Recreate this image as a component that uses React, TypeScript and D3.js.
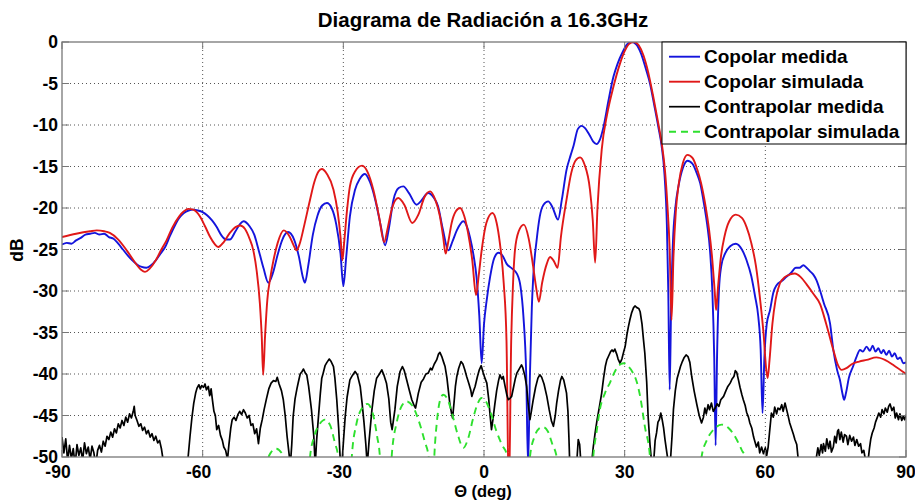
import * as d3 from "d3";

type Pt = [number, number];

const title = "Diagrama de Radiación a 16.3GHz";
const xTicks = [-90, -60, -30, 0, 30, 60, 90];
const yTicks = [0, -5, -10, -15, -20, -25, -30, -35, -40, -45, -50];

// Copolar medida (blue)
const copolarMedida: Pt[] = [
  [-90, -24.4], [-89, -24.2], [-88, -24.3], [-87, -23.9], [-86, -23.6], [-85, -23.2], [-84, -23.1],
  [-83, -23.0], [-82, -23.2], [-81, -23.1], [-80, -23.5], [-79, -23.7], [-78, -24.3], [-77, -25.0],
  [-76, -25.7], [-75, -26.3], [-74, -26.8], [-73, -27.1], [-72, -27.2], [-71, -26.9], [-70, -26.3],
  [-69, -25.5], [-68, -24.7], [-67, -23.4], [-66, -22.2], [-65, -21.2], [-64, -20.6], [-63, -20.3],
  [-62, -20.2], [-61, -20.3], [-60, -20.5], [-59, -20.9], [-58, -21.5], [-57, -22.3], [-56, -23.3],
  [-55, -23.8], [-54.2, -23.8], [-53, -22.8], [-52, -21.9], [-51.3, -21.6], [-50, -22.2], [-49, -23.2],
  [-48, -25.2], [-47, -27.3], [-46, -29.0], [-45, -27.8], [-44, -25.6], [-43, -23.8], [-41.8, -22.9],
  [-40.5, -23.8], [-39.5, -25.8], [-38.6, -28.4], [-38.2, -29.0], [-37.5, -27.0], [-36.5, -23.2],
  [-35.5, -20.9], [-34.5, -19.7], [-33.5, -19.4], [-32.5, -20.0], [-31.5, -22.0], [-30.6, -25.5],
  [-30, -29.4], [-29.4, -26.0], [-28.6, -21.0], [-27.5, -17.8], [-26.5, -16.5], [-25.4, -15.9],
  [-24.3, -16.9], [-23.2, -19.0], [-22, -22.2], [-21.1, -24.5], [-20.3, -22.5], [-19.3, -19.0],
  [-18.2, -17.6], [-17.2, -17.4], [-16, -18.2], [-14.4, -19.6], [-13.5, -19.2], [-11.9, -18.2],
  [-10.8, -18.7], [-9.8, -19.8], [-8.8, -22.5], [-7.6, -25.1], [-6.7, -24.0], [-5.8, -22.7],
  [-4.4, -21.6], [-3.6, -22.3], [-3, -23.5], [-2.2, -25.8], [-1.6, -28.3], [-1, -33], [-0.5, -38.7],
  [0, -34], [0.6, -31], [1.3, -28.3], [2.2, -26.0], [3.1, -25.4], [4, -25.8], [4.8, -26.7], [6, -27.3],
  [7, -27.9], [7.8, -29.5], [8.4, -33], [9, -40], [9.4, -51], [9.8, -40], [10.2, -32], [10.5, -28.3],
  [11.2, -24.0], [11.9, -21.0], [12.7, -19.6], [13.7, -19.2], [14.6, -19.9], [15.8, -21.4],
  [16.6, -19.0], [17.6, -15.4], [18.5, -13.6], [19.1, -12.5], [20, -10.5], [20.8, -10.1],
  [21.6, -10.4], [22.5, -11.2], [23.3, -12.0], [24, -12.3], [24.7, -11.8], [25.5, -10.2],
  [26.5, -7.2], [27.6, -4.2], [28.5, -2.6], [29.5, -1.3], [30.5, -0.3], [31.5, 0], [32.5, -0.3],
  [33.5, -1.4], [34.5, -3.2], [35.4, -5.0], [36.3, -7.6], [37.2, -10.3], [37.9, -12.6], [38.5, -16],
  [39, -22], [39.3, -30], [39.6, -41.9], [39.9, -32], [40.3, -24], [40.8, -20], [41.5, -17.3],
  [42.4, -15.2], [43.4, -14.3], [44.5, -14.7], [45.3, -15.7], [46.1, -17.0], [47, -19.8], [47.6, -22],
  [48.2, -25.1], [48.7, -30], [49.1, -38], [49.4, -48.6], [49.7, -38], [50.1, -30], [50.6, -27],
  [51.4, -25.5], [52.5, -24.6], [53.7, -24.3], [55, -25], [56, -26.3], [57, -28.2], [57.8, -30.6],
  [58.5, -33.1], [59, -37], [59.4, -44.7], [59.8, -38], [60.3, -34], [61, -32.3], [61.7, -30.2],
  [62.4, -29.3], [63.5, -28.8], [64.5, -28.3], [65.5, -27.8], [66.5, -27.2], [67.3, -27.2],
  [68.1, -26.9], [68.8, -27.2], [69.5, -27.6], [70.2, -28.0], [70.9, -28.7], [71.7, -30],
  [72.5, -31.5], [73.8, -33.9], [74.5, -37.1], [75.3, -39.5], [75.9, -40.7], [76.5, -42.5],
  [76.8, -43.1], [77.2, -42.3], [77.8, -40.5], [78.7, -39.1], [79.4, -38.0], [80.2, -37.1],
  [80.8, -37.3], [81.6, -36.7], [82.3, -37.2], [82.9, -36.6], [83.5, -37.3], [84.1, -36.9],
  [84.7, -37.5], [85.2, -37.1], [85.8, -37.7], [86.4, -37.2], [87, -37.9], [87.6, -37.5],
  [88.2, -38.2], [88.8, -38.0], [89.4, -38.7], [90, -38.6],
];

// Copolar simulada (red)
const copolarSimulada: Pt[] = [
  [-90, -23.5], [-87, -23.1], [-84, -22.8], [-82.6, -22.7], [-81, -22.8], [-79.8, -23.0], [-78, -23.8],
  [-76.2, -25.1], [-74.5, -26.5], [-73.2, -27.4], [-72.3, -27.7], [-71.3, -27.3], [-70, -26.3],
  [-68.8, -25.0], [-67.7, -23.9], [-66.5, -22.4], [-65, -21.0], [-64, -20.4], [-63.1, -20.1],
  [-62, -20.2], [-60.6, -21.0], [-59.5, -22.2], [-58.4, -23.5], [-57.5, -24.3], [-56.7, -24.7],
  [-55.5, -24.1], [-54.2, -23.0], [-53, -22.3], [-52, -22.1], [-51, -22.5], [-50, -23.7],
  [-49.2, -25.1], [-48.5, -27.5], [-47.8, -31.5], [-47.4, -35.5], [-47.1, -40.1], [-46.7, -35.5],
  [-46.2, -31], [-45.6, -28.5], [-44.9, -26.3], [-44, -24.2], [-42.7, -22.7], [-41.5, -23.4],
  [-40.6, -24.5], [-40, -25.1], [-39.3, -24.3], [-38.3, -22.0], [-37.1, -19.0], [-36.2, -16.9],
  [-35.3, -15.6], [-34.6, -15.3], [-33.5, -15.9], [-32.1, -17.8], [-31.2, -20.5], [-30.6, -23.5],
  [-30.2, -26.3], [-29.8, -24], [-29.2, -20.2], [-28.6, -17.4], [-27.5, -15.6], [-26, -14.9],
  [-24.8, -15.7], [-23.6, -17.8], [-22.4, -21.0], [-21.3, -24.1], [-20.5, -22.3], [-19.7, -20.2],
  [-18.3, -18.8], [-17, -19.6], [-15.3, -21.8], [-14, -20.8], [-12.7, -18.7], [-11.5, -18.0],
  [-10.4, -19.0], [-9.4, -21.0], [-8.7, -23.5], [-8.2, -25.5], [-7.6, -24.0], [-6.9, -21.8],
  [-6, -20.4], [-5.1, -20.0], [-4.2, -21.0], [-3.4, -23.0], [-2.5, -26.3], [-1.7, -30.5],
  [-1.1, -28.0], [-0.5, -25.1], [0.5, -21.8], [1.8, -20.6], [2.7, -21.8], [3.4, -24.3], [4.2, -29],
  [4.8, -36], [5.3, -55], [5.8, -36], [6.2, -29], [6.6, -25.1], [7.4, -22.8], [8.5, -22.0],
  [9.5, -23.6], [10.5, -27.1], [11.1, -29.5], [11.7, -31.3], [12.4, -29.0], [13.4, -26.7],
  [14.1, -25.9], [14.9, -26.4], [15.7, -27.2], [16.4, -23.5], [17.6, -19.0], [18.6, -15.8],
  [19.5, -14.3], [20.5, -13.9], [21.4, -14.7], [22.6, -17.8], [23.2, -21.5], [23.7, -26.6],
  [24.2, -20], [25.1, -13.0], [26.3, -8.6], [27.6, -5.4], [29, -2.6], [30, -1.1], [31, -0.2],
  [32, 0], [33, -0.4], [34, -1.6], [35, -3.6], [36, -6.3], [37, -9.3], [37.9, -12.2], [38.6, -15.5],
  [39.1, -19.5], [39.6, -25], [40, -33.5], [40.4, -26], [40.9, -20.5], [41.5, -17.2], [42.4, -14.6],
  [43.4, -13.6], [44.5, -14.0], [45.5, -15.4], [46.3, -17.0], [47.2, -19.6], [48, -22.6],
  [48.7, -26.3], [49.2, -30], [49.5, -32.3], [49.9, -29.6], [50.5, -26.0], [51.3, -23.4],
  [52.3, -21.6], [53.7, -20.8], [55, -21.2], [56, -22.3], [57, -24.2], [58, -27.0], [58.9, -31.1],
  [59.6, -35], [60.2, -39.5], [60.5, -40.5], [60.9, -38.3], [61.5, -34.0], [62.2, -31.0],
  [63.1, -29.1], [64.2, -28.3], [65.3, -28.0], [66.3, -27.9], [67.5, -28.3], [68.8, -29.2],
  [70.2, -30.3], [71.7, -31.6], [73, -34.0], [74.5, -37.1], [75.4, -38.8], [76.3, -39.5],
  [77.3, -39.3], [78.5, -38.8], [80, -38.5], [81.6, -38.3], [83.7, -38.0], [85.5, -38.3],
  [87.5, -39.0], [90, -40.0],
];

// Contrapolar medida (black, noisy)
const contrapolarMedida: Pt[] = [
  [-90, -47.6], [-89.6, -49.5], [-89.2, -47.8], [-88.8, -50.5], [-88.4, -48.6], [-88, -50.2],
  [-87.6, -49.0], [-87.2, -51], [-86.8, -48.5], [-86.4, -49.8], [-86, -48.9], [-85.6, -50.4],
  [-85.2, -48.3], [-84.8, -49.6], [-84.4, -48.8], [-84, -50.3], [-83.6, -48.7], [-83.2, -49.5],
  [-82.8, -51], [-82.4, -49.2], [-82, -48.6], [-81.6, -49.4], [-81.2, -48.1], [-80.8, -48.7],
  [-80.4, -47.5], [-80, -47.9], [-79.6, -47.0], [-79.2, -47.6], [-78.8, -46.6], [-78.4, -47.1],
  [-78, -46.0], [-77.6, -46.5], [-77.2, -45.6], [-76.8, -46.2], [-76.4, -45.2], [-76, -45.8],
  [-75.6, -44.8], [-75.2, -45.3], [-74.8, -44.5], [-74.6, -43.9], [-74.4, -45.0], [-74, -45.6],
  [-73.6, -46.3], [-73.2, -46.0], [-72.8, -46.8], [-72.4, -46.4], [-72, -47.2], [-71.6, -46.8],
  [-71.2, -47.6], [-70.8, -47.2], [-70.4, -48.0], [-70, -47.5], [-69.6, -48.3], [-69.2, -48.0],
  [-68.8, -49.0], [-68.4, -50.5], [-68, -52], [-66, -53], [-64, -53], [-63.4, -52], [-63.1, -50],
  [-62.7, -47.5], [-62.3, -45.3], [-61.9, -43.5], [-61.5, -42.3], [-61.2, -41.7], [-60.8, -41.3],
  [-60.5, -41.8], [-60.2, -41.4], [-59.8, -41.6], [-59.5, -41.2], [-59.2, -41.9], [-58.8, -41.5],
  [-58.5, -42.6], [-58.2, -41.8], [-57.9, -43.2], [-57.6, -44.5], [-57.3, -45.0], [-57, -46.7],
  [-56.6, -46.2], [-56.2, -47.4], [-55.8, -48.0], [-55.5, -48.8], [-55.1, -49.2], [-54.7, -50.3],
  [-54.4, -48.5], [-54, -46.5], [-53.7, -45.5], [-53.3, -45.2], [-52.9, -45.6], [-52.5, -44.9],
  [-52.1, -44.5], [-51.7, -44.9], [-51.3, -44.3], [-50.9, -44.7], [-50.5, -45.3], [-50.1, -45.0],
  [-49.7, -46.2], [-49.3, -46.0], [-48.9, -47.2], [-48.5, -46.6], [-48.1, -48.4], [-47.7, -46.5],
  [-47.3, -45.5], [-46.9, -44.3], [-46.4, -43.0], [-45.9, -41.8], [-45.4, -41.1], [-44.9, -40.8],
  [-44.4, -40.9], [-44.1, -40.4], [-43.7, -41.2], [-43.2, -42.0], [-42.8, -43.1], [-42.4, -45.0],
  [-42, -47.5], [-41.6, -49.5], [-41.3, -51], [-41, -48.5], [-40.7, -45.1], [-40.3, -43.0],
  [-39.9, -41.8], [-39.6, -41.0], [-39.2, -40.0], [-38.8, -39.7], [-38.5, -39.4], [-38.1, -39.9],
  [-37.8, -40.1], [-37.4, -41.5], [-36.8, -44.3], [-36.3, -47.5], [-36, -51], [-35.7, -48],
  [-35.3, -45.1], [-34.9, -42.3], [-34.6, -40.5], [-34.3, -39.9], [-33.9, -39.0], [-33.5, -38.6],
  [-33, -38.2], [-32.6, -38.5], [-32.1, -39.1], [-31.8, -40.5], [-31.4, -43.1], [-31, -46.5],
  [-30.6, -51], [-30.2, -50], [-29.9, -47.5], [-29.6, -45.1], [-29.2, -42.8], [-28.6, -40.7],
  [-28.1, -40.2], [-27.5, -39.7], [-27, -40.1], [-26.4, -41.5], [-26, -43.5], [-25.6, -45.8],
  [-25.2, -48.5], [-24.9, -51], [-24.5, -48], [-23.9, -44.3], [-23.4, -42.0], [-22.9, -40.5],
  [-22.3, -40.0], [-21.8, -39.5], [-21.3, -40.2], [-20.8, -41.1], [-20.3, -43.0], [-19.9, -45.8],
  [-19.6, -46.7], [-19.3, -45.5], [-19, -44.3], [-18.5, -41.5], [-17.9, -39.7], [-17.4, -39.1],
  [-17, -39.6], [-16.5, -40.7], [-16, -41.8], [-15.4, -43.1], [-14.9, -43.8], [-14.6, -44.1],
  [-14.3, -43.2], [-14, -42.3], [-13.4, -41.0], [-12.9, -40.6], [-12.4, -40.0], [-11.9, -39.9],
  [-11.4, -39.3], [-11.1, -39.5], [-10.6, -38.8], [-10.1, -38.3], [-9.7, -37.6], [-9.4, -37.4],
  [-9, -37.9], [-8.6, -38.6], [-8.3, -39.1], [-7.9, -40.5], [-7.6, -42.0], [-7.3, -43.5],
  [-6.9, -44.8], [-6.7, -45.3], [-6.4, -43.5], [-6.1, -41.5], [-5.8, -40.3], [-5.4, -39.3],
  [-4.9, -38.5], [-4.5, -38.8], [-4.1, -39.5], [-3.7, -40.3], [-3.2, -41.2], [-2.8, -42.0],
  [-2.6, -42.7], [-2.2, -42.0], [-1.9, -41.5], [-1.4, -40.3], [-1, -39.5], [-0.6, -39.0],
  [-0.2, -39.8], [0.2, -40.5], [0.6, -41.1], [1, -43.0], [1.3, -45.0], [1.6, -46.7], [1.9, -45.5],
  [2.3, -43.7], [2.7, -42.0], [3.1, -40.8], [3.4, -40.1], [3.8, -40.6], [4.1, -40.3], [4.5, -41.5],
  [4.9, -42.6], [5.2, -43.1], [5.6, -42.9], [5.9, -42.7], [6.3, -41.6], [6.7, -40.5], [7, -39.9],
  [7.4, -39.5], [7.7, -39.2], [8, -38.9], [8.3, -39.3], [8.7, -40.2], [9.1, -41.5], [9.4, -43.5],
  [9.8, -45.5], [10.1, -44.5], [10.5, -43.1], [11, -41.6], [11.5, -40.5], [11.9, -40.1],
  [12.3, -40.4], [12.8, -41.2], [13.4, -42.7], [13.9, -44.3], [14.4, -45.7], [14.8, -46.3],
  [15.2, -45.0], [15.5, -43.5], [15.9, -42.0], [16.3, -40.8], [16.6, -40.3], [17, -40.7],
  [17.3, -41.5], [17.6, -42.3], [17.9, -44.5], [18.1, -47.5], [18.3, -51], [19, -53], [19.8, -50.5],
  [20.1, -47.9], [20.4, -48.5], [20.7, -51], [21.5, -53], [22.5, -52], [23, -50.5], [23.3, -48.8],
  [23.7, -47.1], [24.1, -45.6], [24.6, -44.0], [25.1, -42.3], [25.5, -40.5], [25.9, -39.0],
  [26.2, -38.3], [26.6, -37.8], [27, -37.3], [27.3, -37.1], [27.6, -37.3], [27.9, -37.0],
  [28.3, -37.6], [28.6, -38.2], [29, -38.7], [29.4, -38.2], [29.8, -37.3], [30.1, -36.7],
  [30.5, -35.2], [30.8, -34.3], [31.1, -33.5], [31.5, -32.6], [31.9, -32.0], [32.2, -31.8],
  [32.6, -32.0], [33, -32.1], [33.3, -32.5], [33.7, -34.0], [34, -35.8], [34.3, -37.5], [34.7, -41.0],
  [35, -45.1], [35.4, -48.5], [35.8, -51], [36.2, -50.5], [36.5, -48.0], [36.8, -47.1],
  [37.1, -45.8], [37.4, -45.5], [37.7, -44.7], [38, -45.5], [38.3, -46.5], [38.6, -47.9],
  [39, -49.5], [39.4, -51], [39.7, -51], [40.1, -47.5], [40.4, -44.3], [40.8, -42.0], [41.2, -40.5],
  [41.5, -39.9], [41.9, -39.1], [42.3, -38.5], [42.7, -38.0], [43.1, -37.7], [43.5, -37.9],
  [43.9, -38.6], [44.3, -40.3], [44.8, -42.0], [45.4, -43.7], [45.9, -45.0], [46.4, -45.9],
  [46.8, -45.2], [47.1, -44.1], [47.4, -44.8], [47.8, -43.7], [48.1, -44.3], [48.5, -43.5],
  [48.9, -44.5], [49.3, -44.1], [49.7, -43.6], [50.1, -43.9], [50.5, -43.1], [51.1, -42.7],
  [51.6, -42.0], [52, -41.5], [52.5, -41.1], [52.9, -40.6], [53.3, -40.3], [53.6, -39.6],
  [53.9, -39.8], [54.3, -40.8], [54.6, -41.6], [55, -42.5], [55.3, -43.1], [55.7, -43.8],
  [56, -44.6], [56.4, -45.2], [56.7, -45.9], [57.1, -46.5], [57.5, -47.6], [58.1, -48.8],
  [58.5, -48.2], [58.8, -49.5], [59.2, -48.8], [59.6, -49.6], [60, -48.9], [60.3, -49.8],
  [60.6, -48.8], [60.9, -47.0], [61.3, -44.7], [61.7, -45.2], [62, -44.0], [62.4, -44.8],
  [62.7, -44.1], [63.1, -44.3], [63.5, -43.7], [63.8, -44.5], [64.2, -43.5], [64.5, -44.2],
  [64.8, -44.9], [65.2, -45.9], [65.6, -46.6], [66, -47.3], [66.3, -47.9], [66.7, -48.5],
  [67, -50.2], [67.5, -52], [69, -53], [70.5, -51], [70.9, -50.0], [71.2, -48.9], [71.5, -49.8],
  [71.9, -48.5], [72.2, -49.5], [72.4, -48.4], [72.8, -49.3], [73.1, -47.8], [73.5, -49.0],
  [73.8, -48.1], [74.1, -49.4], [74.5, -48.8], [74.8, -47.5], [75.1, -48.3], [75.4, -46.9],
  [75.6, -46.7], [75.9, -47.9], [76.2, -47.0], [76.6, -48.2], [76.9, -47.3], [77.3, -47.5],
  [77.6, -48.5], [78, -47.4], [78.4, -48.1], [78.8, -47.6], [79.1, -48.6], [79.5, -47.9],
  [79.9, -48.7], [80.3, -48.4], [80.6, -49.5], [81, -49.2], [81.4, -50.5], [81.8, -51],
  [82.2, -49.0], [82.5, -47.8], [82.8, -47.1], [83.2, -46.5], [83.5, -45.8], [83.9, -45.2],
  [84.2, -44.7], [84.6, -45.2], [84.9, -44.3], [85.3, -44.8], [85.6, -44.1], [86, -44.6],
  [86.3, -43.9], [86.6, -43.6], [87, -44.4], [87.4, -44.0], [87.7, -45.3], [88, -44.7],
  [88.4, -45.5], [88.7, -44.8], [89.1, -45.6], [89.4, -45.1], [89.7, -45.5], [90, -44.9],
];

// Contrapolar simulada (green dashed)
const contrapolarSimulada: Pt[] = [
  [-48.5, -60], [-46.5, -51], [-45.5, -49.5], [-44.3, -49.0], [-43.2, -49.5], [-42.3, -51], [-41.2, -60],
  [-38, -60], [-37.1, -50], [-36.2, -47.5], [-35, -46.0], [-33.9, -45.5], [-32.8, -46.2], [-31.8, -48.3],
  [-31.1, -50], [-30.4, -60],
  [-29, -60], [-28.2, -50], [-27.2, -46.0], [-26, -44.1], [-24.9, -43.6], [-23.8, -44.6], [-22.8, -47.5],
  [-22.2, -50], [-21.5, -60],
  [-20.5, -60], [-19.7, -50], [-18.6, -45.8], [-17.5, -43.8], [-16.5, -43.3], [-15.3, -43.8],
  [-14, -45.5], [-12.6, -48.2], [-11.8, -50], [-11.2, -60],
  [-10.6, -50], [-10, -45.5], [-9.3, -43.0], [-8.7, -42.5], [-7.8, -43.0], [-6.8, -44.8], [-5.6, -47.3],
  [-4.4, -48.9], [-3.4, -47.8], [-2.3, -45.3], [-1.3, -43.5], [-0.5, -42.9], [0.4, -43.3],
  [1.5, -44.8], [2.6, -46.8], [3.9, -48.6], [4.8, -49.6], [5.4, -52], [6, -60],
  [9, -60], [9.8, -50], [10.8, -47.5], [11.7, -46.6], [12.6, -46.4], [13.6, -46.9], [14.6, -48.5],
  [15.5, -50], [16.2, -60],
  [22.4, -60], [23.3, -50], [24, -47], [24.7, -44.3], [25.8, -42.3], [26.9, -41.0], [28, -39.6],
  [29.2, -38.8], [29.8, -38.7], [30.6, -39.0], [31.8, -39.9], [32.6, -41.0], [33.3, -42.7],
  [34.3, -46.3], [35.4, -50], [36.4, -60],
  [45.4, -60], [46.4, -50], [47.5, -48.0], [48.8, -46.8], [50.7, -46.1], [52.3, -46.6], [53.8, -47.8],
  [55, -49.2], [55.7, -50], [56.8, -60],
];

const series = [
  { name: "Copolar medida", data: copolarMedida, color: "#1414dc", width: 1.9, dash: "", smooth: true },
  { name: "Copolar simulada", data: copolarSimulada, color: "#e01818", width: 1.9, dash: "", smooth: true },
  { name: "Contrapolar medida", data: contrapolarMedida, color: "#000000", width: 1.7, dash: "", smooth: false },
  { name: "Contrapolar simulada", data: contrapolarSimulada, color: "#2ee02e", width: 1.9, dash: "7,5", smooth: true },
];

const W = 915;
const H = 500;
const plot = { left: 62, right: 906, top: 42, bottom: 457 };
const font = "'Liberation Sans', Arial, Helvetica, sans-serif";

const App = () => {
  const x = d3.scaleLinear().domain([-90, 90]).range([plot.left, plot.right]);
  const y = d3.scaleLinear().domain([-50, 0]).range([plot.bottom, plot.top]);

  const makeLine = (smooth: boolean) =>
    d3
      .line<Pt>()
      .x((d) => x(d[0]))
      .y((d) => y(d[1]))
      .curve(smooth ? d3.curveMonotoneX : d3.curveLinear);

  const legend = { x: 662, y: 42, w: 244, h: 102, row: 25 };

  return (
    <svg
      width={W}
      height={H}
      viewBox={`0 0 ${W} ${H}`}
      style={{ position: "absolute", left: 0, top: 0, background: "#fff" }}
      fontFamily={font}
      fontWeight="bold"
    >
      <defs>
        <clipPath id="plot-clip">
          <rect x={plot.left} y={plot.top} width={plot.right - plot.left} height={plot.bottom - plot.top} />
        </clipPath>
      </defs>
      <rect x={0} y={0} width={W} height={H} fill="#fff" />

      {/* grid */}
      {xTicks.slice(1, -1).map((t) => (
        <line key={`gx${t}`} x1={x(t)} x2={x(t)} y1={plot.top} y2={plot.bottom} stroke="#555" strokeDasharray="1,3" />
      ))}
      {yTicks.slice(1, -1).map((t) => (
        <line key={`gy${t}`} x1={plot.left} x2={plot.right} y1={y(t)} y2={y(t)} stroke="#555" strokeDasharray="1,3" />
      ))}

      {/* curves */}
      <g clipPath="url(#plot-clip)">
        {series.map((s) => (
          <path
            key={s.name}
            d={makeLine(s.smooth)(s.data) ?? ""}
            fill="none"
            stroke={s.color}
            strokeWidth={s.width}
            strokeDasharray={s.dash || undefined}
            strokeLinejoin="round"
          />
        ))}
      </g>

      {/* axes box + ticks */}
      <rect
        x={plot.left}
        y={plot.top}
        width={plot.right - plot.left}
        height={plot.bottom - plot.top}
        fill="none"
        stroke="#777"
        strokeWidth={1.3}
      />
      {xTicks.map((t) => (
        <g key={`tx${t}`}>
          <line x1={x(t)} x2={x(t)} y1={plot.bottom} y2={plot.bottom - 7} stroke="#777" />
          <line x1={x(t)} x2={x(t)} y1={plot.top} y2={plot.top + 7} stroke="#777" />
          <text x={x(t)} dx={t < 0 ? -4 : 0} y={478} textAnchor="middle" fontSize={17.5} fill="#000">
            {t}
          </text>
        </g>
      ))}
      {yTicks.map((t) => (
        <g key={`ty${t}`}>
          <line x1={plot.left} x2={plot.left + 7} y1={y(t)} y2={y(t)} stroke="#777" />
          <line x1={plot.right} x2={plot.right - 7} y1={y(t)} y2={y(t)} stroke="#777" />
          <text x={58} y={y(t)} dy="0.35em" textAnchor="end" fontSize={17.5} fill="#000">
            {t}
          </text>
        </g>
      ))}

      {/* legend */}
      <rect x={legend.x} y={legend.y} width={legend.w} height={legend.h} fill="#fff" stroke="#000" strokeWidth={1} />
      {series.map((s, i) => {
        const cy = legend.y + 14.7 + i * legend.row;
        return (
          <g key={`lg${s.name}`}>
            <line
              x1={legend.x + 7}
              x2={legend.x + 38}
              y1={cy}
              y2={cy}
              stroke={s.color}
              strokeWidth={s.width}
              strokeDasharray={s.dash || undefined}
            />
            <text x={legend.x + 42} y={cy} dy="0.35em" fontSize={19} fill="#000">
              {s.name}
            </text>
          </g>
        );
      })}

      {/* labels */}
      <text x={483} y={26.5} textAnchor="middle" fontSize={20.5} fill="#000">
        {title}
      </text>
      <text x={483} y={497} textAnchor="middle" fontSize={16.5} fill="#000">
        Θ (deg)
      </text>
      <text transform="translate(23,250) rotate(-90)" textAnchor="middle" fontSize={17.5} fill="#000">
        dB
      </text>
    </svg>
  );
};

export default App;
